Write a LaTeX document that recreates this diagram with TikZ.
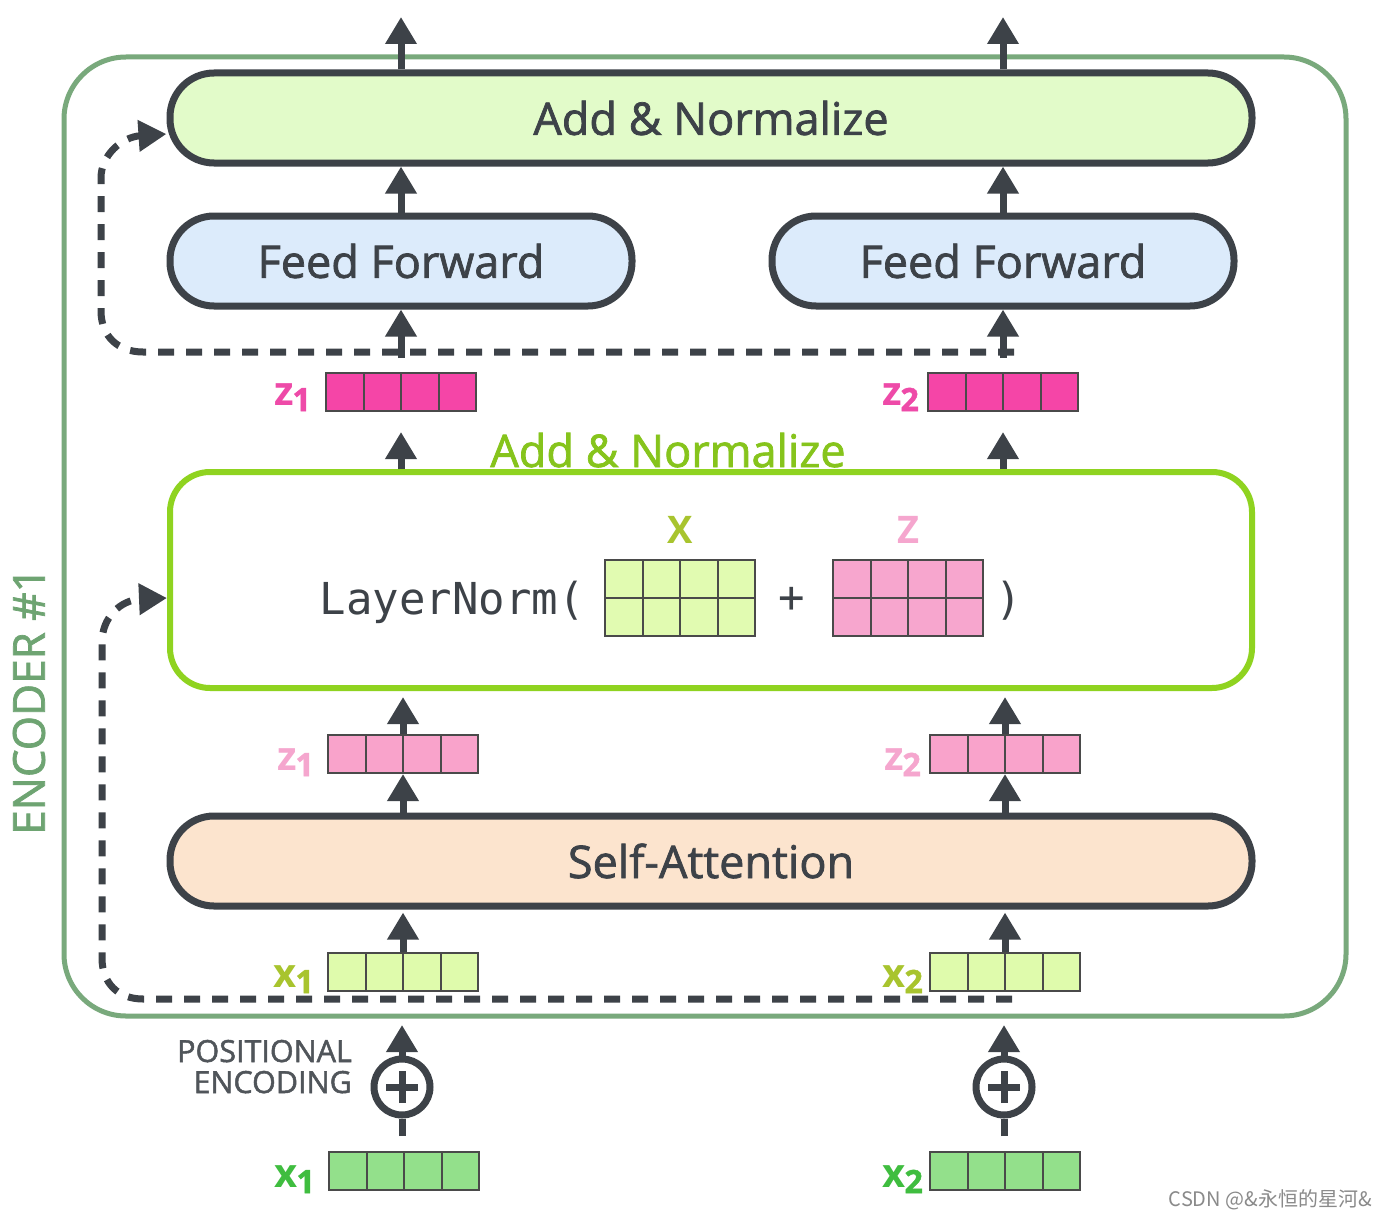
\documentclass[tikz,border=0pt]{standalone}
\usepackage{fontspec}
\setmainfont{Open Sans}
\setmonofont{DejaVu Sans Mono}
\newfontfamily\semi[FakeBold=1.6]{Open Sans}
\newfontfamily\semisub[FakeBold=1.6]{Open Sans}
\newfontfamily\cjk{Noto Sans CJK SC}
\usetikzlibrary{arrows.meta}
\definecolor{dk}{HTML}{3D4248}
\definecolor{encg}{HTML}{79A97C}
\definecolor{enclab}{HTML}{6EA472}
\definecolor{addfill}{HTML}{E2FBC9}
\definecolor{fffill}{HTML}{DCEBFB}
\definecolor{safill}{HTML}{FCE4CE}
\definecolor{gbord}{HTML}{8FD320}
\definecolor{gtext}{HTML}{86C41C}
\definecolor{zdk}{HTML}{F545A7}
\definecolor{zdklab}{HTML}{EE4AA8}
\definecolor{zlt}{HTML}{F9A3CB}
\definecolor{zltlab}{HTML}{F5A6CE}
\definecolor{xlt}{HTML}{DFFBAC}
\definecolor{xltlab}{HTML}{A8C42E}
\definecolor{xgr}{HTML}{93E08B}
\definecolor{xgrlab}{HTML}{3FBD3F}
\definecolor{matx}{HTML}{E1FBB1}
\definecolor{matz}{HTML}{F7A6CE}
\definecolor{vline}{HTML}{4A4A4A}
\definecolor{pegray}{HTML}{50555A}
\definecolor{wm}{HTML}{8A8A8A}
\newcommand\mysub[1]{\kern-1pt\raisebox{-6pt}{\semisub\fontsize{32}{32}\selectfont #1}}
\begin{document}
\begin{tikzpicture}[x=1pt,y=-1pt,
  box/.style={draw=dk, line width=7pt, rounded corners=44pt, minimum height=90pt,
    text=dk, font=\semi\fontsize{45}{54}\selectfont, inner sep=0pt},
  arr/.style={draw=dk, line width=7pt, -{Triangle[width=30pt,length=27pt]}},
  stem/.style={draw=dk, line width=7pt},
  res/.style={draw=dk, line width=7pt, dash pattern=on 16pt off 12pt,
    -{Triangle[width=30pt,length=28pt]}},
  vec/.style={draw=vline, line width=2pt, fill=#1, minimum width=150pt,
    minimum height=38pt, inner sep=0pt,
    path picture={\foreach \k in {1,2,3}{\draw[vline,line width=2pt]
      ([xshift=\k*37.5pt]path picture bounding box.south west) --
      ([xshift=\k*37.5pt]path picture bounding box.north west);}}},
  mat/.style={draw=vline, line width=2pt, fill=#1, minimum width=150pt,
    minimum height=76pt, inner sep=0pt,
    path picture={\foreach \k in {1,2,3}{\draw[vline,line width=2pt]
      ([xshift=\k*37.5pt]path picture bounding box.south west) --
      ([xshift=\k*37.5pt]path picture bounding box.north west);}
      \draw[vline,line width=2pt] (path picture bounding box.west) --
      (path picture bounding box.east);}},
  lab/.style={font=\fontsize{40}{40}\selectfont\bfseries, inner sep=0pt, anchor=base east},
  pe/.style={circle, draw=dk, line width=7pt, minimum size=56pt, inner sep=0pt,
    path picture={\draw[dk,line width=7pt]
      ([xshift=-16pt]path picture bounding box.center) --
      ([xshift=16pt]path picture bounding box.center);
      \draw[dk,line width=7pt]
      ([yshift=-16pt]path picture bounding box.center) --
      ([yshift=16pt]path picture bounding box.center);}},
  mono/.style={font=\ttfamily\fontsize{44}{50}\selectfont, text=dk, inner sep=0pt}
]
\useasboundingbox (0,0) rectangle (1386,1212);
\fill[white] (0,0) rectangle (1386,1212);

% encoder frame
\node[draw=encg, line width=5pt, rounded corners=62pt, minimum width=1282pt,
  minimum height=959pt] (enc) at (705,536.5) {};
\node[rotate=90, text=enclab, font=\semi\fontsize{44}{50}\selectfont, inner sep=0pt]
  (enclabel) at (29,701) {ENCODER \#1};

% boxes
\node[box, fill=addfill, minimum width=1082pt] (addtop) at (711,118) {Add \& Normalize};
\node[box, fill=fffill, minimum width=462pt] (ff1) at (401,261) {Feed Forward};
\node[box, fill=fffill, minimum width=462pt] (ff2) at (1003,261) {Feed Forward};
\node[draw=gbord, line width=6pt, rounded corners=40pt, fill=white,
  minimum width=1082pt, minimum height=216pt] (gbox) at (711,580) {};
\node[box, fill=safill, minimum width=1082pt] (sa) at (711,861) {Self-Attention};

% vectors
\node[vec=zdk] (z1t) at (401,392) {};
\node[vec=zdk] (z2t) at (1003,392) {};
\node[vec=zlt] (z1l) at (403,754) {};
\node[vec=zlt] (z2l) at (1005,754) {};
\node[vec=xlt] (x1) at (403,972) {};
\node[vec=xlt] (x2) at (1005,972) {};
\node[vec=xgr] (x1b) at (404,1171) {};
\node[vec=xgr] (x2b) at (1005,1171) {};

% labels
\node[lab, text=zdklab] (lz1t) at (311,405) {z\mysub{1}};
\node[lab, text=zdklab] (lz2t) at (919,405) {z\mysub{2}};
\node[lab, text=zltlab] (lz1l) at (314,770) {z\mysub{1}};
\node[lab, text=zltlab] (lz2l) at (921,770) {z\mysub{2}};
\node[lab, text=xltlab] (lx1) at (314,987) {x\mysub{1}};
\node[lab, text=xltlab] (lx2) at (923,987) {x\mysub{2}};
\node[lab, text=xgrlab] (lx1b) at (315,1187) {x\mysub{1}};
\node[lab, text=xgrlab] (lx2b) at (923,1187) {x\mysub{2}};

% positional encoding
\node[pe] (pe1) at (402,1087) {};
\node[pe] (pe2) at (1004,1087) {};
\node[anchor=base east, inner sep=0pt, text=pegray, font=\semi\fontsize{30.5}{31}\selectfont]
  (pel1) at (352,1062) {POSITIONAL};
\node[anchor=base east, inner sep=0pt, text=pegray, font=\semi\fontsize{30.5}{31}\selectfont]
  (pel2) at (352,1093) {ENCODING};

% layer norm content
\node[anchor=base, inner sep=0pt, text=gtext, font=\semi\fontsize{45}{50}\selectfont]
  (glab) at (668,467) {Add \& Normalize};
\node[mono, anchor=base east] (ln) at (585,614) {LayerNorm(};
\node[mat=matx] (mX) at (680,598) {};
\node[mat=matz] (mZ) at (908,598) {};
\node[mono] (plus) at (792,600) {+};
\node[mono, anchor=base west] (rp) at (995,614) {)};
\node[anchor=base, inner sep=0pt, text=xltlab, font=\fontsize{38}{40}\selectfont\bfseries]
  (lX) at (680,543) {X};
\node[anchor=base, inner sep=0pt, text=zltlab, font=\fontsize{38}{40}\selectfont\bfseries]
  (lZ) at (908,543) {Z};

% residual connections
\coordinate (r1) at (1014,352);
\coordinate (r2) at (1012,999);
\draw[res] (r1) -- (143,352) .. controls (118,352) and (101,336) .. (101,311)
  -- (101,178) .. controls (101,155) and (122,137) .. ([yshift=-16pt]addtop.west);
\draw[res] (r2) -- (143,999) .. controls (118,999) and (102,983) .. (102,958)
  -- (102,642) .. controls (102,618) and (120,600) .. ([yshift=-18pt]gbox.west);

% arrows
\coordinate (o1) at (401,17);
\coordinate (o2) at (1003,17);
\draw[arr] (addtop.north -| ff1) -- (o1);
\draw[arr] (addtop.north -| ff2) -- (o2);
\draw[arr] (ff1.north) -- (ff1.north |- addtop.south);
\draw[arr] (ff2.north) -- (ff2.north |- addtop.south);
\draw[arr] ([yshift=14pt]z1t.north) -- (z1t.north |- ff1.south);
\draw[arr] ([yshift=14pt]z2t.north) -- (z2t.north |- ff2.south);
\draw[arr] (gbox.north -| z1t) -- ([yshift=-20pt]z1t.south);
\draw[arr] (gbox.north -| z2t) -- ([yshift=-20pt]z2t.south);
\draw[arr, shorten >=6pt] (z1l.north) -- (z1l.north |- gbox.south);
\draw[arr, shorten >=6pt] (z2l.north) -- (z2l.north |- gbox.south);
\draw[arr] (sa.north -| z1l) -- (z1l.south);
\draw[arr] (sa.north -| z2l) -- (z2l.south);
\draw[arr, shorten >=3pt] (x1.north) -- (x1.north |- sa.south);
\draw[arr, shorten >=3pt] (x2.north) -- (x2.north |- sa.south);
\draw[arr, shorten >=33pt] (pe1.north) -- (pe1.north |- x1.south);
\draw[arr, shorten >=33pt] (pe2.north) -- (pe2.north |- x2.south);
\draw[stem] ([yshift=15pt]x1b.north -| pe1) -- (pe1.south);
\draw[stem] ([yshift=15pt]x2b.north -| pe2) -- (pe2.south);

% watermark
\node[anchor=base east, inner sep=0pt, text=wm, font=\cjk\fontsize{20}{20}\selectfont]
  (wmark) at (1372,1206) {CSDN @\&永恒的星河\&};
\end{tikzpicture}
\end{document}
